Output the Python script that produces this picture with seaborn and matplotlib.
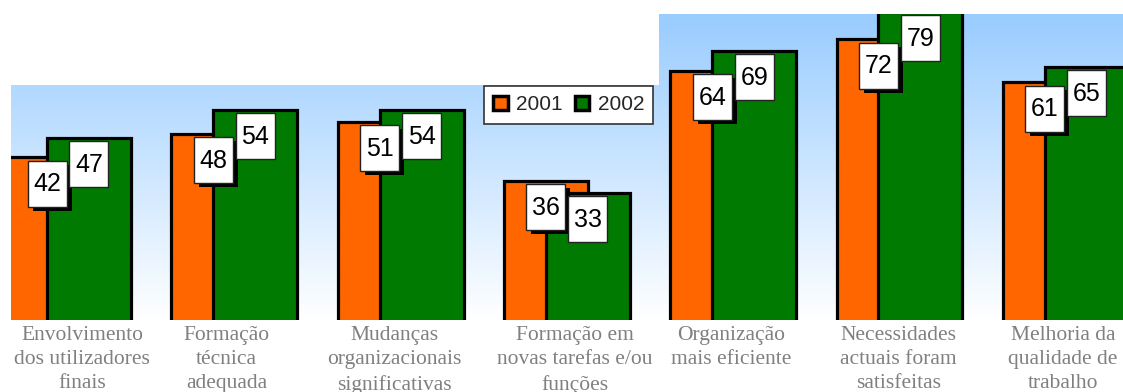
import numpy as np
import matplotlib
matplotlib.use("Agg")
import matplotlib.pyplot as plt
import matplotlib.transforms as mtransforms
from matplotlib.patches import Rectangle, Patch
import seaborn as sns

# ---------------- data ----------------
categories = [
    "Envolvimento\ndos utilizadores\nfinais",
    "Formação\ntécnica\nadequada",
    "Mudanças\norganizacionais\nsignificativas",
    "Formação em\nnovas tarefas e/ou\nfunções",
    "Organização\nmais eficiente",
    "Necessidades\nactuais foram\nsatisfeitas",
    "Melhoria da\nqualidade de\ntrabalho",
]
series_names = ["2001", "2002"]
values_2001 = [42, 48, 51, 36, 64, 72, 61]
values_2002 = [47, 54, 54, 33, 69, 79, 65]

# ---------------- style / layout ----------------
ORANGE = "#FF6600"
GREEN = "#007A00"
DPI = 100
W, H = 1123, 392
XLIM = (-0.343, 6.344)
YLIM = (0.6, 78.4)
BAR_OFFSET = 0.126
BAR_WIDTH = 0.505
label_shift_px = [14, -8, -6, 8, -2, -1, -3]

sns.set_theme(style="white")
plt.rcParams["font.family"] = ["Liberation Sans", "DejaVu Sans"]

fig = plt.figure(figsize=(W / DPI, H / DPI), dpi=DPI, facecolor="white")
ax = fig.add_axes([11 / W, (H - 320) / H, (W - 11) / W, (320 - 14) / H])

idx = np.arange(len(categories))

# background gradient
grad = np.linspace(0, 1, 256)[:, None, None]
top = np.array([153, 204, 255]) / 255
bot = np.array([255, 255, 255]) / 255
img = top + (bot - top) * grad
ax.imshow(img, extent=[XLIM[0], XLIM[1], YLIM[0], YLIM[1]], aspect="auto",
          origin="upper", zorder=0, interpolation="bilinear")
ax.add_patch(Rectangle((0, 0.768), 0.5827, 0.3, transform=ax.transAxes,
                       fc="white", ec="none", zorder=0.5))

# bars
sns.barplot(x=idx - BAR_OFFSET, y=values_2001, native_scale=True, width=BAR_WIDTH,
            color=ORANGE, saturation=1, edgecolor="black", linewidth=2.3,
            errorbar=None, ax=ax, zorder=2)
sns.barplot(x=idx + BAR_OFFSET, y=values_2002, native_scale=True, width=BAR_WIDTH,
            color=GREEN, saturation=1, edgecolor="black", linewidth=2.3,
            errorbar=None, ax=ax, zorder=3)


def draw_label(x, v, shadow):
    tr = fig.dpi_scale_trans + mtransforms.ScaledTranslation(x, v, ax.transData)
    bw, bh, gap = 39 / DPI, 46 / DPI, 3.4 / DPI
    if shadow:
        ax.add_artist(Rectangle((-bw / 2 + 5 / DPI, -gap - bh - 4 / DPI), bw, bh,
                                transform=tr, fc="black", ec="none", zorder=5))
    ax.add_artist(Rectangle((-bw / 2, -gap - bh), bw, bh, transform=tr,
                            fc="white", ec="#222222", lw=1.0, zorder=6))
    ax.text(0, -34 / DPI, f"{v}", transform=tr, ha="center", va="baseline",
            fontsize=18, color="black", zorder=7)


for i, v in enumerate(values_2001):
    draw_label(i - BAR_OFFSET, v, True)
for i, v in enumerate(values_2002):
    draw_label(i + BAR_OFFSET, v, False)

# axes
ax.set_xlim(*XLIM)
ax.set_ylim(*YLIM)
px_per_unit = (W - 11) / (XLIM[1] - XLIM[0])
ax.set_xticks(idx + np.array(label_shift_px) / px_per_unit)
ax.set_xticklabels(categories, fontfamily="Liberation Serif", fontsize=15.5,
                   color="#808080", linespacing=1.36)
ax.tick_params(axis="x", length=0, pad=4.5)
ax.set_yticks([])
ax.set_xlabel("")
ax.set_ylabel("")
for s in ax.spines.values():
    s.set_visible(False)

handles = [Patch(fc=ORANGE, ec="black", lw=2.5), Patch(fc=GREEN, ec="black", lw=2.5)]
leg = ax.legend(handles, series_names, loc="upper left",
                bbox_to_anchor=(0.4254, 0.7647), borderaxespad=0, ncol=2,
                frameon=True, fancybox=False, edgecolor="#333333", framealpha=1,
                fontsize=15, handlelength=0.68, handleheight=0.68,
                handletextpad=0.4, columnspacing=0.6, borderpad=0.45)
leg.get_frame().set_linewidth(1.2)
leg.set_zorder(10)

fig.savefig("out.png", dpi=DPI, facecolor="white")
